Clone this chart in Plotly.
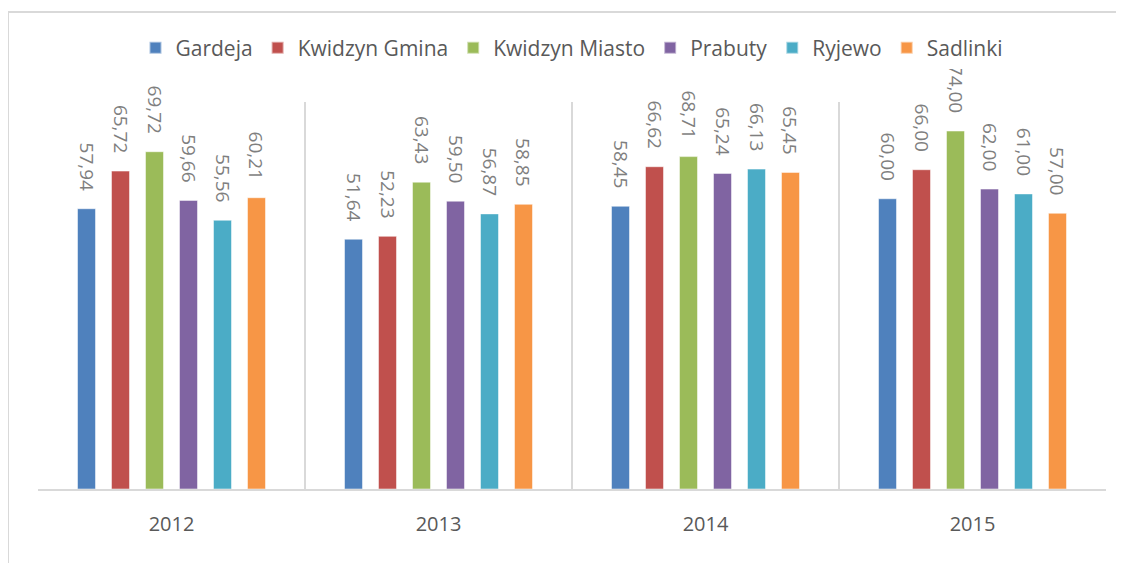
import plotly.graph_objects as go

years = ["2012", "2013", "2014", "2015"]
series_names = ["Gardeja", "Kwidzyn Gmina", "Kwidzyn Miasto", "Prabuty", "Ryjewo", "Sadlinki"]
gardeja = [57.94, 51.64, 58.45, 60.00]
kwidzyn_gmina = [65.72, 52.23, 66.62, 66.00]
kwidzyn_miasto = [69.72, 63.43, 68.71, 74.00]
prabuty = [59.66, 59.50, 65.24, 62.00]
ryjewo = [55.56, 56.87, 66.13, 61.00]
sadlinki = [60.21, 58.85, 65.45, 57.00]
colors = ["#4f81bd", "#c0504d", "#9bbb59", "#8064a2", "#4bacc6", "#f79646"]

all_values = [gardeja, kwidzyn_gmina, kwidzyn_miasto, prabuty, ryjewo, sadlinki]

# page body has an 8px margin, so the figure starts at (8, 8)
OFF = 8
W, H = 1124 - OFF, 563 - OFF
L = 38 - OFF
T = 102 - OFF
R = W - (1106 - OFF)
B = H - (489 - OFF)
pw = W - L - R
ph = H - T - B

LABEL_PAD = "\u00a0\u00a0\u00a0"  # visual gap between bar top and rotated label

fig = go.Figure()
for name, vals, col in zip(series_names, all_values, colors):
    fig.add_trace(go.Bar(
        name=name, x=years, y=vals,
        marker=dict(color=col, line=dict(color="rgba(255,255,255,0.5)", width=1)),
        text=[f"{v:.2f}".replace(".", ",") + LABEL_PAD for v in vals],
        textposition="outside", textangle=90, constraintext="none",
        textfont=dict(family="Open Sans", size=19, color="#7f7f7f"),
        cliponaxis=False,
    ))

# outer frame (cropped chart border)
fx = (8 - 38) / pw
fy = (489 - 12) / ph
fig.add_shape(type="line", xref="paper", yref="paper", x0=fx, x1=fx, y0=-0.5, y1=fy,
              line=dict(color="#d9d9d9", width=2))
fig.add_shape(type="line", xref="paper", yref="paper", x0=fx, x1=1.2, y0=fy, y1=fy,
              line=dict(color="#d9d9d9", width=2))

fig.update_layout(
    width=W, height=H,
    margin=dict(l=L, r=R, t=T, b=B),
    paper_bgcolor="white", plot_bgcolor="white",
    barmode="group", bargap=0.236, bargroupgap=0.47,
    font=dict(family="Open Sans", color="#595959"),
    showlegend=True,
    legend=dict(orientation="h", x=0.5, xanchor="center", y=(489 - 48) / ph, yanchor="middle",
                font=dict(size=21, color="#595959"), itemsizing="constant",
                traceorder="normal", itemwidth=30),
    xaxis=dict(type="category", range=[-0.5, 3.5], tickson="boundaries",
               showgrid=True, gridcolor="#d9d9d9", gridwidth=1.5,
               showline=True, linecolor="#d9d9d9", linewidth=2,
               ticks="", tickfont=dict(size=20, color="#595959"), ticklabelstandoff=16),
    yaxis=dict(range=[0, 80], visible=False, showgrid=False, zeroline=False),
)

fig.write_html("out.html")
